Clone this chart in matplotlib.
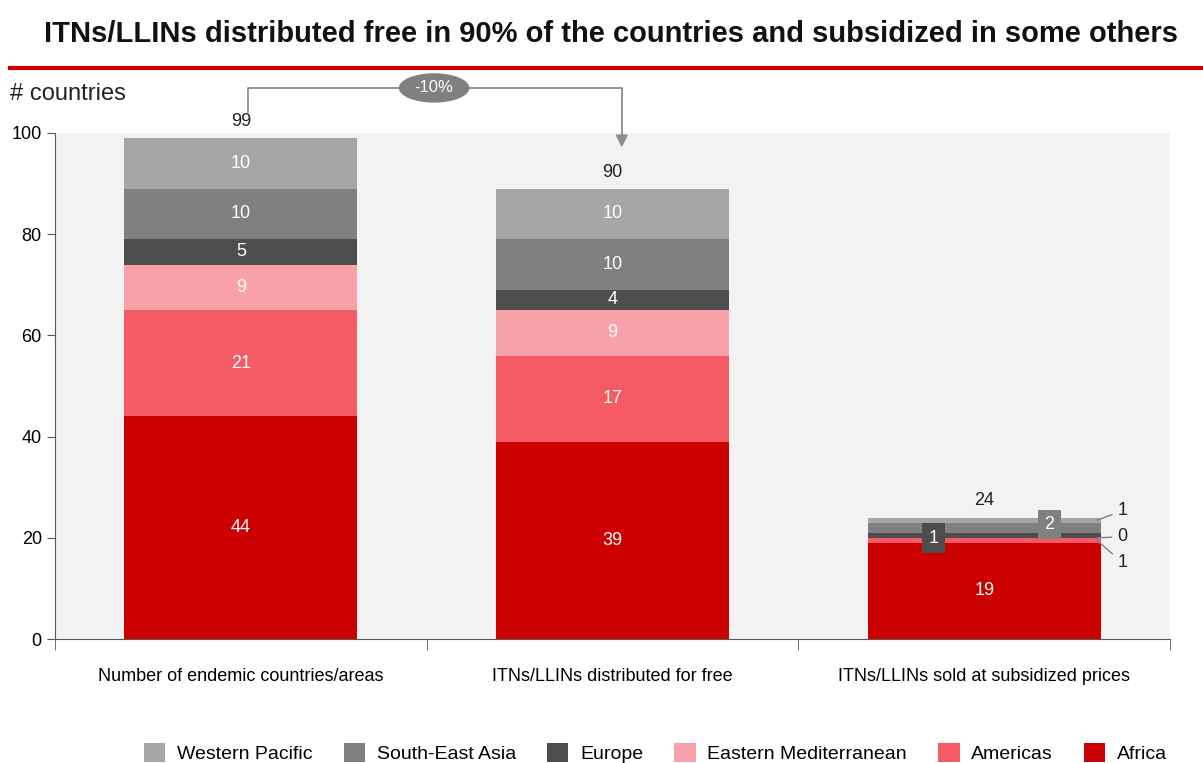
import numpy as np
import matplotlib.pyplot as plt
from matplotlib.patches import Ellipse

plt.rcParams['font.family'] = ['Liberation Sans', 'DejaVu Sans']

categories = ['Number of endemic countries/areas',
              'ITNs/LLINs distributed for free',
              'ITNs/LLINs sold at subsidized prices']
regions = ['Africa', 'Americas', 'Eastern Mediterranean', 'Europe',
           'South-East Asia', 'Western Pacific']
africa = [44, 39, 19]
americas = [21, 17, 1]
east_med = [9, 9, 0]
europe = [5, 4, 1]
se_asia = [10, 10, 2]
w_pacific = [10, 10, 1]
totals = [99, 90, 24]
change_label = '-10%'

colors = ['#cc0000', '#f65a64', '#f8a1a8', '#4d4d4d', '#808080', '#a6a6a6']
series = [africa, americas, east_med, europe, se_asia, w_pacific]

fig = plt.figure(figsize=(12.03, 7.63), dpi=100)
ax = fig.add_axes([0.0457, 0.1625, 0.9269, 0.6632])
ax.set_facecolor('#f2f2f2')

x = np.arange(len(categories))
width = 0.627
bottom = np.zeros(len(categories))
bars = []
for vals, col, name in zip(series, colors, regions):
    b = ax.bar(x, vals, width, bottom=bottom, color=col, label=name, zorder=2)
    bars.append(b)
    for i in range(2):
        ax.text(x[i], bottom[i] + vals[i] / 2, str(vals[i]), ha='center', va='center',
                color='white', fontsize=13)
    bottom = bottom + np.array(vals)

# last bar is too thin for inside labels
ax.text(x[2], africa[2] / 2, str(africa[2]), ha='center', va='center', color='white', fontsize=13)
y_eu = africa[2] + americas[2] + east_med[2] + europe[2] / 2
ax.text(x[2] - 0.137, y_eu - 0.6, str(europe[2]), ha='center', va='center', color='white', fontsize=13,
        bbox=dict(boxstyle='square,pad=0.35', fc='#4d4d4d', ec='none'), zorder=4)
y_se = africa[2] + americas[2] + east_med[2] + europe[2] + se_asia[2] / 2
ax.text(x[2] + 0.176, y_se + 0.6, str(se_asia[2]), ha='center', va='center', color='white', fontsize=13,
        bbox=dict(boxstyle='square,pad=0.35', fc='#808080', ec='none'), zorder=4)

edge = x[2] + width / 2
side = [(totals[2] - w_pacific[2] / 2, w_pacific[2], 25.3),
        (africa[2] + americas[2] + east_med[2], east_med[2], 20.2),
        (africa[2] + americas[2] / 2, americas[2], 15.1)]
for yv, val, yt in side:
    ax.annotate(str(val), xy=(edge - 0.01, yv), xytext=(edge + 0.045, yt),
                ha='left', va='center', fontsize=13, color='#222222',
                arrowprops=dict(arrowstyle='-', color='#7f7f7f', lw=1, shrinkA=2, shrinkB=0))

for i in range(3):
    ax.text(x[i], bottom[i] + 1.6, str(totals[i]), ha='center', va='bottom', fontsize=13, color='#222222')

ax.set_xlim(-0.5, 2.5)
ax.set_ylim(0, 100)
ax.set_yticks(np.arange(0, 101, 20))
ax.set_xticks(x)
ax.set_xticklabels(categories, fontsize=13)
ax.set_xticks([-0.5, 0.5, 1.5, 2.5], minor=True)
ax.tick_params(axis='x', which='major', length=0, pad=21)
ax.tick_params(axis='x', which='minor', length=8, color='#595959')
ax.tick_params(axis='y', length=6, color='#595959', labelsize=13)
for s in ['top', 'right']:
    ax.spines[s].set_visible(False)
for s in ['left', 'bottom']:
    ax.spines[s].set_color('#595959')

# change bracket from first to second bar
yb = 108.9
ax.plot([x[0] + 0.02, x[0] + 0.02, x[1] + 0.025, x[1] + 0.025], [104.2, yb, yb, 98],
        color='#8c8c8c', lw=1.3, clip_on=False, zorder=3)
ax.annotate('', xy=(x[1] + 0.025, 96.6), xytext=(x[1] + 0.025, 100),
            arrowprops=dict(arrowstyle='-|>', color='#8c8c8c', lw=1.3, mutation_scale=18),
            annotation_clip=False)
ell = Ellipse((0.52, yb), 0.19, 5.8, fc='#808080', ec='none', clip_on=False, zorder=4)
ax.add_patch(ell)
ax.text(0.52, yb, change_label, ha='center', va='center', color='white', fontsize=12, zorder=5)

fig.text(0.008, 0.877, '# countries', fontsize=17, color='#222222', va='center')
fig.text(0.508, 0.955, 'ITNs/LLINs distributed free in 90% of the countries and subsidized in some others',
         ha='center', va='center', fontsize=21, fontweight='bold', color='#111111')
fig.add_artist(plt.Line2D([0.008, 1.0], [0.911, 0.911], color='#cc0000', lw=3))

handles = [bars[i] for i in range(5, -1, -1)]
labels = [regions[i] for i in range(5, -1, -1)]
fig.legend(handles, labels, loc='center', bbox_to_anchor=(0.545, 0.013), ncol=6, frameon=False,
           fontsize=14, handlelength=1.1, handleheight=1.1, columnspacing=1.6, handletextpad=0.6)

fig.savefig('out.png', dpi=100)
